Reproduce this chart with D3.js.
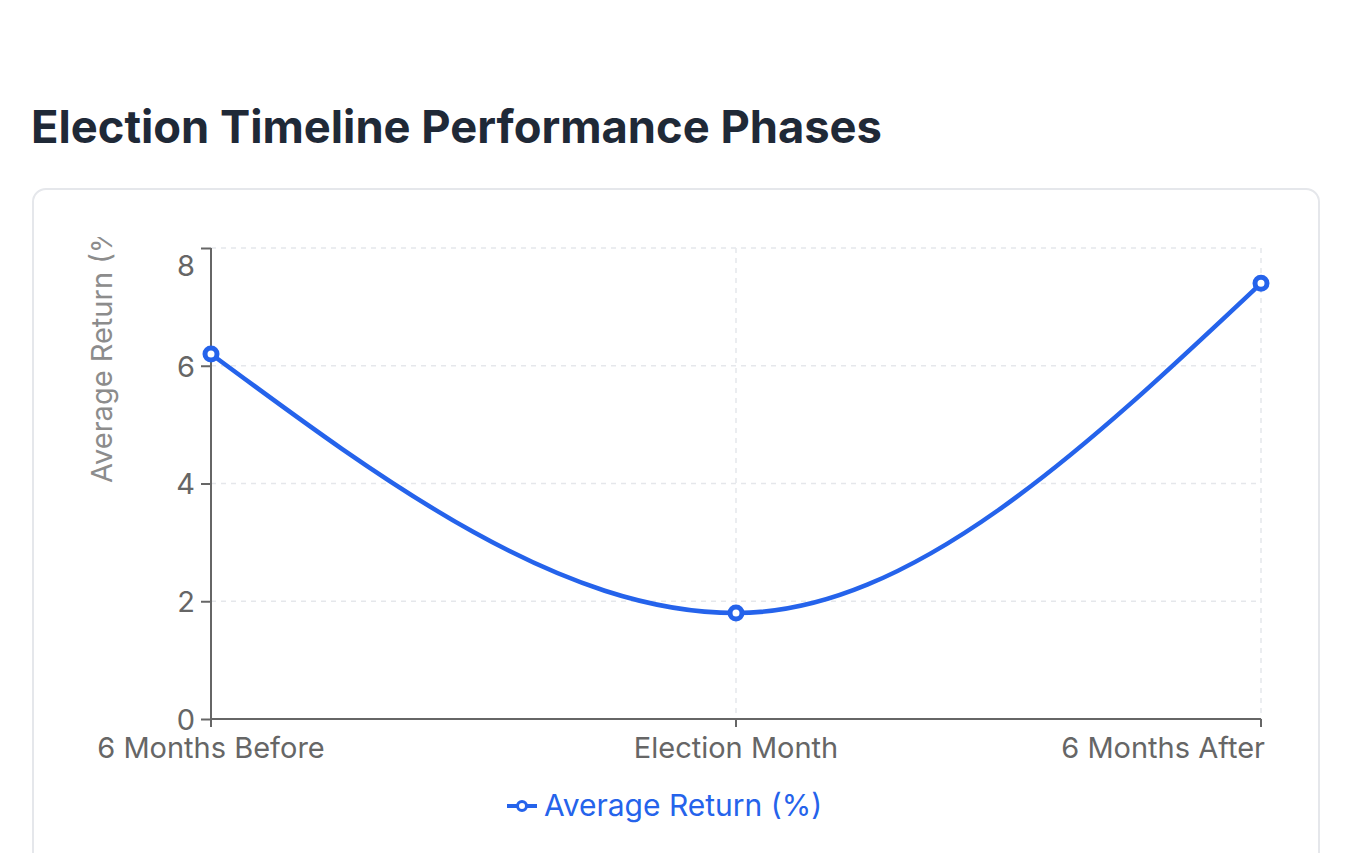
<!DOCTYPE html>
<html>
<head>
<meta charset="utf-8">
<script src="https://cdn.jsdelivr.net/npm/d3@7"></script>
<style>
  html, body { margin: 0; padding: 0; background: #ffffff; }
  svg { display: block; }
</style>
</head>
<body>
<svg id="chart" width="1346" height="853"></svg>
<script>
const categories = ["6 Months Before", "Election Month", "6 Months After"];
const seriesName = "Average Return (%)";
const seriesValues = [6.2, 1.8, 7.4];
const yTicks = [0, 2, 4, 6, 8];
const chartTitle = "Election Timeline Performance Phases";
const yAxisTitle = "Average Return (%)";

const blue = "#2563eb";
const tickColor = "#666666";
const gridColor = "#e5e7eb";
const font = "Inter, 'Noto Sans', sans-serif";

const svg = d3.select("#chart");

// page title
svg.append("text")
  .attr("x", 31).attr("y", 143)
  .attr("font-family", font).attr("font-weight", 700)
  .attr("font-size", 45.3).attr("fill", "#1f2937")
  .text(chartTitle);

// card
svg.append("rect")
  .attr("x", 33).attr("y", 189).attr("width", 1286).attr("height", 720)
  .attr("rx", 13).attr("fill", "#ffffff")
  .attr("stroke", gridColor).attr("stroke-width", 2);

const x = d3.scalePoint().domain(categories).range([211, 1261]);
const y = d3.scaleLinear().domain([0, 8]).range([719, 248]);

// grid
const grid = svg.append("g");
grid.selectAll("line.h").data(yTicks.filter(d => d > 0)).join("line")
  .attr("x1", 211).attr("x2", 1261)
  .attr("y1", d => y(d)).attr("y2", d => y(d))
  .attr("stroke", gridColor).attr("stroke-width", 1.5).attr("stroke-dasharray", "5,5");
grid.selectAll("line.v").data(categories.slice(1)).join("line")
  .attr("x1", d => x(d)).attr("x2", d => x(d))
  .attr("y1", 248).attr("y2", 719)
  .attr("stroke", gridColor).attr("stroke-width", 1.5).attr("stroke-dasharray", "5,5");

// axes
const yAxis = svg.append("g").attr("transform", "translate(211,0)")
  .call(d3.axisLeft(y).tickValues(yTicks).tickSize(10).tickPadding(6));
const xAxis = svg.append("g").attr("transform", "translate(0,719)")
  .call(d3.axisBottom(x).tickSize(8).tickPadding(4).offset(0));
[yAxis, xAxis].forEach(a => {
  a.select(".domain").attr("stroke", tickColor).attr("stroke-width", 2);
  a.selectAll(".tick line").attr("stroke", tickColor).attr("stroke-width", 2);
  a.selectAll(".tick text").attr("fill", tickColor)
    .attr("font-family", font).attr("font-size", 29);
});
xAxis.select(".domain").attr("d", "M211,0H1261");
yAxis.select(".domain").attr("d", "M0,248V719");
yAxis.selectAll(".tick text")
  .attr("dy", d => d === 8 ? "0.95em" : "0.36em");
xAxis.selectAll(".tick text").attr("dy", "0.93em");
xAxis.selectAll(".tick text")
  .filter(d => d === categories[categories.length - 1])
  .attr("text-anchor", "end").attr("x", 4);

// y axis title (clipped at top as in reference)
svg.append("clipPath").attr("id", "ytclip")
  .append("rect").attr("x", 60).attr("y", 237).attr("width", 80).attr("height", 400);
svg.append("g").attr("clip-path", "url(#ytclip)")
  .append("text")
  .attr("transform", "translate(112,483) rotate(-90)")
  .attr("font-family", font).attr("font-size", 29).attr("fill", "#8c8c8c")
  .attr("text-anchor", "start")
  .text(yAxisTitle);

// line
const line = d3.line()
  .x((d, i) => x(categories[i]))
  .y(d => y(d))
  .curve(d3.curveMonotoneX);
svg.append("path").attr("d", line(seriesValues))
  .attr("fill", "none").attr("stroke", blue).attr("stroke-width", 4.5)
  .attr("stroke-linecap", "round");

svg.selectAll("circle.pt").data(seriesValues).join("circle")
  .attr("cx", (d, i) => x(categories[i])).attr("cy", d => y(d))
  .attr("r", 6).attr("fill", "#ffffff").attr("stroke", blue).attr("stroke-width", 5);

// legend
const lg = svg.append("g");
lg.append("line").attr("x1", 507).attr("x2", 537).attr("y1", 806).attr("y2", 806)
  .attr("stroke", blue).attr("stroke-width", 4);
lg.append("circle").attr("cx", 522).attr("cy", 806).attr("r", 4.5)
  .attr("fill", "#ffffff").attr("stroke", blue).attr("stroke-width", 3);
lg.append("text").attr("x", 544).attr("y", 816)
  .attr("font-family", font).attr("font-size", 30).attr("fill", blue)
  .text(seriesName);
</script>
</body>
</html>
